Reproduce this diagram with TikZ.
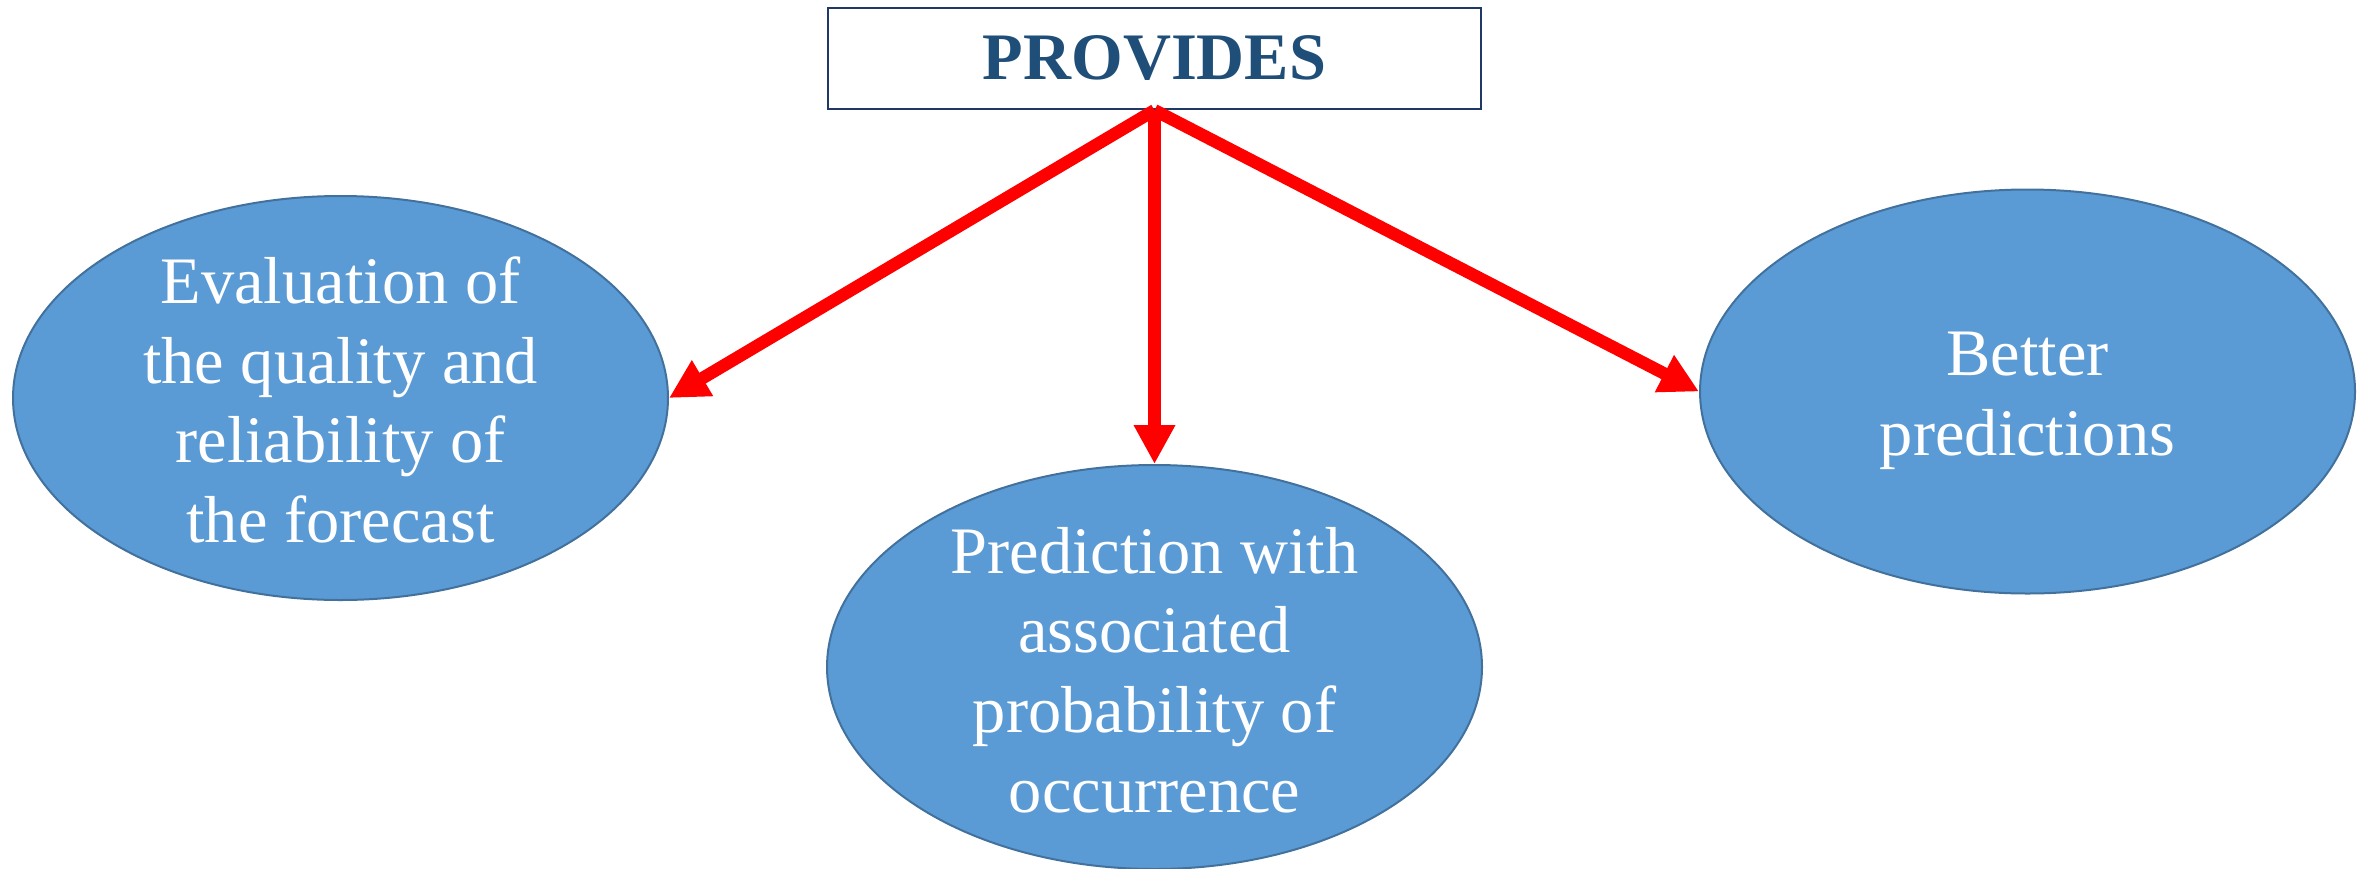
\documentclass[tikz,border=0pt]{standalone}
\usepackage{fontspec}
\setmainfont{Liberation Serif}
\usetikzlibrary{shapes.geometric,arrows.meta}
\definecolor{ellfill}{HTML}{5B9BD5}
\definecolor{elldraw}{HTML}{41719C}
\definecolor{boxdraw}{HTML}{1F3864}
\definecolor{provtext}{HTML}{1F4E79}
\definecolor{arrred}{HTML}{FF0000}
\tikzset{
  bubble/.style={ellipse, fill=ellfill, draw=elldraw, line width=0.2mm,
    minimum width=65.5mm, minimum height=40.4mm, inner sep=0pt},
  bubbletext/.style={align=center, text=white, inner sep=0pt,
    font=\fontsize{18.9pt}{22.7pt}\selectfont},
  headbox/.style={draw=boxdraw, line width=0.25mm, fill=white,
    minimum width=65.3mm, minimum height=10.1mm, inner sep=0pt,
    text=provtext, font=\fontsize{18.9pt}{22.7pt}\selectfont\bfseries},
  arr/.style={draw=arrred, line width=1.25mm,
    -{Triangle[width=3.9mm,length=3.9mm]}}
}
\begin{document}
\begin{tikzpicture}[x=0.1mm,y=-0.1mm]
\useasboundingbox (0,0) rectangle (2369,868);
\node[headbox] (P) at (1154.5,58.5) {PROVIDES};
\node[bubble] (L) at (340.5,398) {};
\node[bubble] (M) at (1154.5,667) {};
\node[bubble] (R) at (2027.5,391.5) {};
\node[bubbletext, yshift=-0.2mm] (Lt) at (L.center) {Evaluation of\\the quality and\\reliability of\\the forecast};
\node[bubbletext, yshift=-0.3mm] (Mt) at (M.center) {Prediction with\\associated\\probability of\\occurrence};
\node[bubbletext, yshift=-0.95mm] (Rt) at (R.center) {Better\\predictions};
\draw[arr] (P.south) -- (L.east);
\draw[arr] (P.south) -- (M.north);
\draw[arr] (P.south) -- (R.west);
\end{tikzpicture}
\end{document}
